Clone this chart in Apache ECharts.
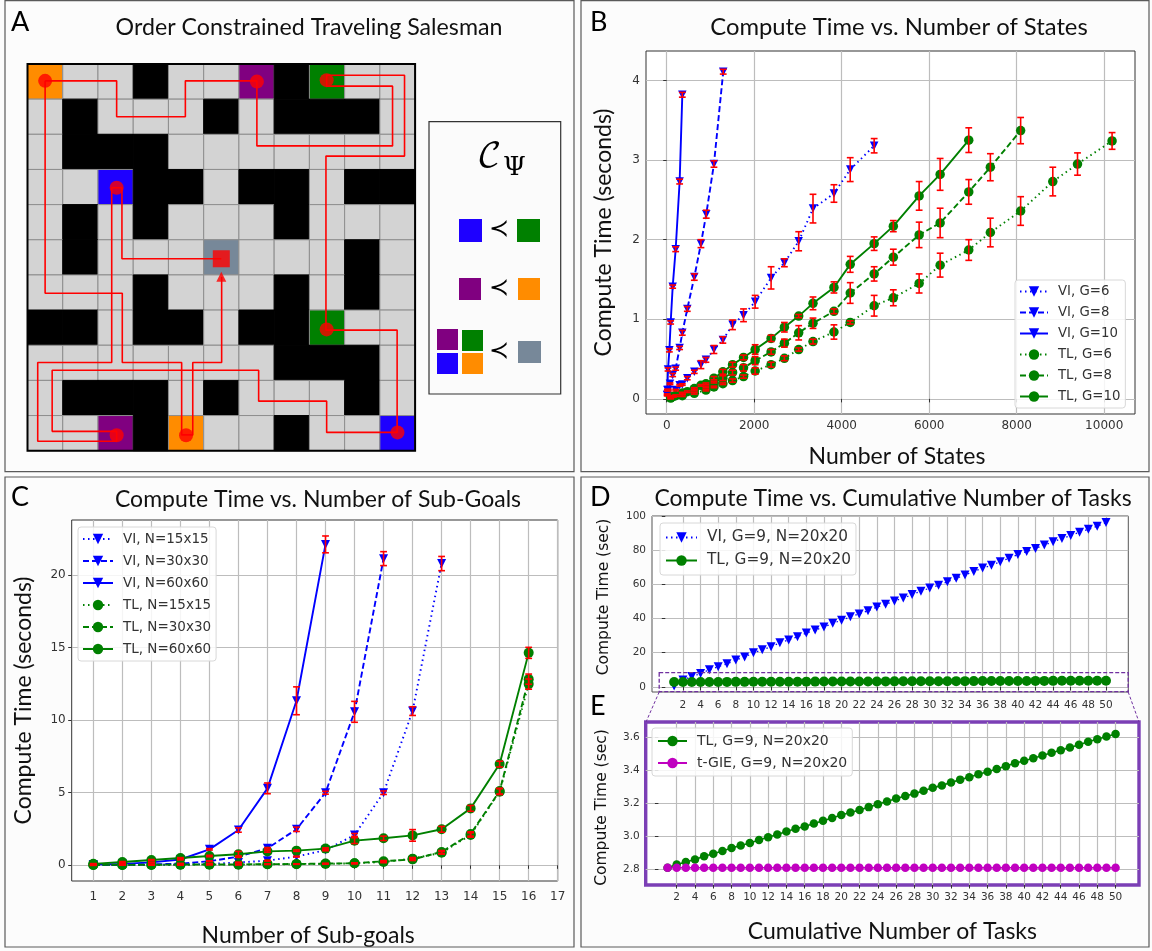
<!DOCTYPE html>
<html><head><meta charset="utf-8">
<style>html,body{margin:0;padding:0;background:#fff}#c{width:1152px;height:951px}</style>
<script src="https://cdn.jsdelivr.net/npm/echarts@6/dist/echarts.min.js"></script>
</head><body><div id="c"></div>
<script>
// ---------- Panel A data ----------
const mazeRows = [
 'OggKggPKGgg','gKgggKgKKKg','gKKKggggggg','ggBKKgKKgKK','gKgKgggKggg',
 'gKgggSgggKg','gggKgggKgKg','KKgKKgKKGgg','gggggggKKKg','gKKKgKgggKg','ggPKOggKggB'];
const pathMainX = [0.5,2.53,2.53,4.48,4.48,6.51,6.51,10.36,10.36,8.49,8.49,8.65,10.70,10.70,8.47,8.47,10.49,10.49,8.49,8.49,6.56,6.56,0.70,0.70,2.53,2.53,0.29,0.29,2.39,2.39,2.68,2.68,5.5];
const pathMainY = [0.48,0.48,1.50,1.50,0.48,0.48,2.33,2.33,0.63,0.63,0.32,0.32,0.32,2.62,2.62,7.57,7.57,10.48,10.48,9.59,9.59,8.71,8.71,10.45,10.45,10.73,10.73,8.49,8.49,3.52,3.52,5.54,5.54];
const pathToGoalX = [0.5,0.5,2.69,2.69,4.375,4.375,4.69,4.69,5.51,5.51];
const pathToGoalY = [0.48,6.52,6.52,8.49,8.49,10.55,10.55,8.49,8.49,6.05];
const stopX = [0.5,6.51,8.49,2.53,8.49,10.5,4.5,2.53];
const stopY = [0.48,0.5,0.46,3.52,7.55,10.48,10.56,10.56];
// ---------- Panel B data ----------
const bTicksX = [0,2000,4000,6000,8000,10000], bTicksY = [0,1,2,3,4];
const xVI10=[8,15,30,61,91,137,205,296,357];
const yVI10=[.05,.11,.37,.61,.96,1.41,1.88,2.73,3.82];
const eVI10=[.01,.01,.02,.02,.02,.02,.03,.03,.03];
const xVI8=[15,38,76,137,205,296,357,471,631,783,904,1080,1292];
const yVI8=[.05,.11,.19,.3,.38,.64,.83,1.13,1.53,1.95,2.32,2.95,4.11];
const eVI8=[.01,.01,.01,.02,.02,.02,.03,.03,.04,.05,.05,.04,.03];
const xVI6=[205,296,357,471,631,783,897,1080,1284,1505,1756,2022,2386,2690,3017,3344,3823,4195,4742];
const yVI6=[.11,.17,.18,.26,.34,.43,.49,.62,.74,.93,1.05,1.22,1.52,1.71,1.98,2.39,2.58,2.88,3.18];
const eVI6=[.01,.01,.01,.02,.02,.05,.03,.05,.04,.06,.08,.08,.14,.05,.12,.18,.11,.15,.09];
const xTL6=[91,357,631,897,1080,1284,1505,1756,2022,2386,2690,3017,3344,3823,4195,4742,5180,5770,6250,6904,7398,8090,8825,9390,10180];
const yTL6=[.01,.04,.07,.11,.15,.19,.23,.28,.35,.43,.51,.62,.72,.84,.96,1.17,1.27,1.45,1.68,1.87,2.09,2.36,2.73,2.95,3.24];
const eTL6=[.01,.01,.01,.01,.01,.01,.02,.02,.04,.03,.03,.02,.03,.09,.02,.13,.1,.12,.15,.13,.18,.18,.18,.14,.105];
const xTL8=[152,357,631,897,1080,1284,1505,1756,2022,2386,2690,3017,3344,3823,4195,4742,5180,5770,6250,6904,7398,8090];
const yTL8=[.03,.07,.11,.15,.21,.26,.33,.39,.48,.59,.70,.83,.95,1.10,1.33,1.57,1.78,2.06,2.21,2.60,2.91,3.37];
const eTL8=[.01,.01,.01,.01,.01,.03,.03,.04,.05,.03,.05,.09,.065,.03,.13,.09,.1,.16,.185,.155,.17,.165];
const xTL10=[91,205,357,471,631,783,897,1080,1284,1505,1756,2022,2386,2690,3017,3344,3823,4195,4742,5180,5770,6250,6904];
const yTL10=[.02,.04,.07,.09,.13,.17,.19,.26,.34,.43,.52,.62,.76,.90,1.04,1.20,1.40,1.69,1.95,2.17,2.55,2.82,3.25];
const eTL10=[.01,.01,.01,.01,.01,.01,.01,.02,.03,.03,.03,.06,.04,.06,.02,.08,.07,.1,.085,.07,.18,.2,.155];
// ---------- Panel C data ----------
const cTicksX=[1,2,3,4,5,6,7,8,9,10,11,12,13,14,15,16,17], cTicksY=[0,5,10,15,20];
const goals9=[1,2,3,4,5,6,7,8,9], goals11=[1,2,3,4,5,6,7,8,9,10,11], goals13=[1,2,3,4,5,6,7,8,9,10,11,12,13], goals16=[1,2,3,4,5,6,7,8,9,10,11,12,13,14,15,16];
const cVI15=[.01,.02,.03,.05,.1,.2,.32,.6,1.05,2.09,5.0,10.62,20.78];
const cVI15e=[.01,.01,.01,.01,.01,.02,.03,.03,.05,.1,.12,.3,.49];
const cVI30=[.01,.03,.06,.12,.28,.6,1.17,2.48,5.0,10.57,21.12];
const cVI30e=[.01,.01,.01,.01,.03,.05,.05,.15,.1,.72,.48];
const cVI60=[.05,.1,.2,.4,1.1,2.43,5.3,11.33,22.1];
const cVI60e=[.01,.01,.02,.03,.05,.15,.37,.96,.58];
const cTL15=[.02,.02,.03,.04,.05,.05,.07,.08,.1,.14,.23,.46,.87,2.09,5.07,12.48];
const cTL15e=[.01,.01,.01,.01,.01,.01,.01,.01,.02,.03,.05,.08,.1,.15,.2,.35];
const cTL30=[.03,.03,.04,.05,.06,.06,.08,.09,.12,.14,.28,.41,.92,2.16,5.11,12.82];
const cTL30e=[.01,.01,.01,.01,.01,.01,.01,.01,.02,.03,.05,.08,.1,.15,.2,.35];
const cTL60=[.1,.23,.37,.5,.64,.76,.96,1.01,1.15,1.7,1.86,2.06,2.48,3.92,6.97,14.63];
const cTL60e=[.02,.03,.03,.03,.05,.2,.06,.05,.05,.2,.15,.4,.2,.2,.2,.38];
// ---------- Panels D / E data ----------
const tasks=[1,2,3,4,5,6,7,8,9,10,11,12,13,14,15,16,17,18,19,20,21,22,23,24,25,26,27,28,29,30,31,32,33,34,35,36,37,38,39,40,41,42,43,44,45,46,47,48,49,50];
const taskTicks=[2,4,6,8,10,12,14,16,18,20,22,24,26,28,30,32,34,36,38,40,42,44,46,48,50];
const dTicksY=[0,20,40,60,80,100], eTicksY=[2.8,3.0,3.2,3.4,3.6];
const dVI=[.5,4,6,7.8,10,11.8,13.5,15.7,17.5,20,21.7,23.5,25.8,27.5,29.3,31.5,33.3,35,37.2,39,41,42.7,44.5,46.7,48.3,50.2,52,54,56,57.8,59.5,61.5,63.5,65.5,67.5,69.5,71.2,73.2,75.3,77.4,79.2,81,83,85,86.8,88.6,90.5,92.2,94,96.2];
const eTL=[2.81,2.83,2.845,2.86,2.88,2.895,2.912,2.93,2.945,2.96,2.978,2.995,3.012,3.03,3.047,3.06,3.078,3.095,3.112,3.13,3.145,3.16,3.178,3.195,3.212,3.23,3.245,3.26,3.278,3.295,3.31,3.327,3.345,3.36,3.378,3.393,3.41,3.427,3.444,3.46,3.475,3.492,3.508,3.523,3.54,3.557,3.575,3.59,3.607,3.622];
const eGIE=[2.81,2.81,2.81,2.81,2.81,2.81,2.81,2.81,2.81,2.81,2.81,2.81,2.81,2.81,2.81,2.81,2.81,2.81,2.81,2.81,2.81,2.81,2.81,2.81,2.81,2.81,2.81,2.81,2.81,2.81,2.81,2.81,2.81,2.81,2.81,2.81,2.81,2.81,2.81,2.81,2.81,2.81,2.81,2.81,2.81,2.81,2.81,2.81,2.81,2.81];
const namesB=['VI, G=6','VI, G=8','VI, G=10','TL, G=6','TL, G=8','TL, G=10'];
const namesC=['VI, N=15x15','VI, N=30x30','VI, N=60x60','TL, N=15x15','TL, N=30x30','TL, N=60x60'];

// ---------- styling & helpers ----------
const COL={O:'#ff8c00',g:'#d3d3d3',K:'#000000',P:'#800080',G:'#008000',B:'#1e00ff',S:'#778899'};
const SANS='"Lato","Noto Sans",sans-serif', MPL='"DejaVu Sans",sans-serif';
const zip=(...a)=>a[0].map((_,i)=>a.map(c=>c[i]));
const DOT=[1.5,3.5], DASH=[6,3];
function curve(name,gi,xs,ys,color,dash,sym,size,lw){
  return {type:'line',name,xAxisIndex:gi,yAxisIndex:gi,data:zip(xs,ys),showAllSymbol:true,z:3,
    symbol:sym==='v'?'triangle':'circle',symbolRotate:sym==='v'?180:0,symbolSize:size,
    itemStyle:{color},lineStyle:{color,width:lw||1.9,type:dash||'solid'}};
}
function errs(gi,xs,ys,es){
  return {type:'custom',xAxisIndex:gi,yAxisIndex:gi,z:5,silent:true,data:zip(xs,ys,es),encode:{x:0,y:1},
    renderItem(p,api){
      const x=api.value(0),y=api.value(1),e=api.value(2);
      const a=api.coord([x,y-e]),b=api.coord([x,y+e]),c=3.4;
      const st={stroke:'#ff0000',lineWidth:1.6,fill:null};
      return {type:'group',children:[
        {type:'line',shape:{x1:a[0],y1:a[1],x2:b[0],y2:b[1]},style:st},
        {type:'line',shape:{x1:a[0]-c,y1:a[1],x2:a[0]+c,y2:a[1]},style:st},
        {type:'line',shape:{x1:b[0]-c,y1:b[1],x2:b[0]+c,y2:b[1]},style:st}]};
    }};
}
function axis(gi,min,max,ticks,name,gap,fs,tfs,o){
  o=o||{};
  return {type:'value',gridIndex:gi,min,max,name,nameLocation:'middle',nameGap:gap,
    nameTextStyle:{fontFamily:o.nameFont||SANS,fontSize:fs,color:'#111',padding:o.namePad||0},
    axisLine:{show:false},
    axisTick:{show:true,customValues:ticks,length:3.5,lineStyle:{color:'#333',width:1}},
    axisLabel:{show:true,customValues:ticks,fontFamily:MPL,fontSize:tfs,color:'#333',margin:o.margin||6,
      hideOverlap:false,showMinLabel:true,showMaxLabel:true,formatter:o.fmt||(v=>String(v))},
    splitLine:{show:true,lineStyle:{color:'#bdbdbd',width:1.2}}};
}
const legendBox=(names,left,top,w,gap,fs,pad)=>({show:true,data:names,orient:'vertical',left,top,itemWidth:w,itemHeight:13,itemGap:gap,
  padding:pad,backgroundColor:'rgba(255,255,255,0.85)',borderColor:'#d8d8d8',borderWidth:1,borderRadius:3,
  textStyle:{fontFamily:MPL,fontSize:fs,color:'#333',padding:[0,0,0,5]},selectedMode:false,z:20});

const series=[
  {type:'custom',xAxisIndex:0,yAxisIndex:0,z:1,silent:true,
   data:mazeRows.flatMap((r,j)=>r.split('').map((c,i)=>[i,j])),
   encode:{x:0,y:1},
   renderItem(p,api){
     const i=api.value(0),j=api.value(1),c=mazeRows[j][i];
     const a=api.coord([i,j]),b=api.coord([i+1,j+1]);
     return {type:'rect',shape:{x:a[0],y:a[1],width:b[0]-a[0],height:b[1]-a[1]},
       style:{fill:COL[c],stroke:c==='K'?'#000':'#8e8e8e',lineWidth:1}};
   }},
  {type:'line',xAxisIndex:0,yAxisIndex:0,data:zip(pathMainX,pathMainY),symbol:'none',z:3,lineStyle:{color:'#ff0000',width:1.6}},
  {type:'line',xAxisIndex:0,yAxisIndex:0,data:zip(pathToGoalX,pathToGoalY),symbol:'none',z:3,lineStyle:{color:'#ff0000',width:1.6}},
  {type:'scatter',xAxisIndex:0,yAxisIndex:0,data:zip(stopX,stopY),symbol:'circle',symbolSize:14,itemStyle:{color:'#ff0000'},z:4},
  {type:'scatter',xAxisIndex:0,yAxisIndex:0,data:[[5.5,5.54]],symbol:'rect',symbolSize:17,itemStyle:{color:'#ff0000'},z:4},
  {type:'scatter',xAxisIndex:0,yAxisIndex:0,data:[[5.5,6.05]],symbol:'triangle',symbolSize:10,itemStyle:{color:'#ff0000'},z:4},

  curve(namesB[0],1,xVI6,yVI6,'#0000ff',DOT,'v',8.5),
  curve(namesB[1],1,xVI8,yVI8,'#0000ff',DASH,'v',8.5),
  curve(namesB[2],1,xVI10,yVI10,'#0000ff','solid','v',8.5),
  curve(namesB[3],1,xTL6,yTL6,'#008000',DOT,'c',9.5),
  curve(namesB[4],1,xTL8,yTL8,'#008000',DASH,'c',9.5),
  curve(namesB[5],1,xTL10,yTL10,'#008000','solid','c',9.5),
  errs(1,xVI6,yVI6,eVI6),errs(1,xVI8,yVI8,eVI8),errs(1,xVI10,yVI10,eVI10),
  errs(1,xTL6,yTL6,eTL6),errs(1,xTL8,yTL8,eTL8),errs(1,xTL10,yTL10,eTL10),

  curve(namesC[0],2,goals13,cVI15,'#0000ff',DOT,'v',9),
  curve(namesC[1],2,goals11,cVI30,'#0000ff',DASH,'v',9),
  curve(namesC[2],2,goals9,cVI60,'#0000ff','solid','v',9),
  curve(namesC[3],2,goals16,cTL15,'#008000',DOT,'c',10),
  curve(namesC[4],2,goals16,cTL30,'#008000',DASH,'c',10),
  curve(namesC[5],2,goals16,cTL60,'#008000','solid','c',10),
  errs(2,goals13,cVI15,cVI15e),errs(2,goals11,cVI30,cVI30e),errs(2,goals9,cVI60,cVI60e),
  errs(2,goals16,cTL15,cTL15e),errs(2,goals16,cTL30,cTL30e),errs(2,goals16,cTL60,cTL60e),

  curve('VI, G=9, N=20x20',3,tasks,dVI,'#0000ff',DOT,'v',9,1.3),
  curve('TL, G=9, N=20x20',3,tasks,eTL,'#008000','solid','c',10,1.4),
  curve('TL, G=9, N=20x20',4,tasks,eTL,'#008000','solid','c',8.5,1.6),
  curve('t-GIE, G=9, N=20x20',4,tasks,eGIE,'#c000c0','solid','c',8.5,1.6)
];

const txt=(x,y,text,size,fam,align)=>({type:'text',x,y,z:30,style:{text,fill:'#000',fontSize:size,fontFamily:fam||SANS,align:align||'left',verticalAlign:'middle'}});
const rect=(x,y,w,h,fill)=>({type:'rect',z:30,shape:{x,y,width:w,height:h},style:{fill}});
const frame=(x,y,w,h)=>({type:'rect',z:1,shape:{x,y,width:w,height:h},style:{fill:null,stroke:'#5a5a5a',lineWidth:1.2}});
const dashLine=(x1,y1,x2,y2)=>({type:'line',z:30,shape:{x1,y1,x2,y2},style:{stroke:'#7030a0',lineWidth:1,lineDash:[3,2]}});
const ttl=(text,left,top,size)=>({text,left,top,textAlign:'center',textStyle:{fontFamily:SANS,fontSize:size,fontWeight:'normal',color:'#111'}});

const option={
  animation:false,backgroundColor:'#fcfcfc',
  title:[
    ttl('Order Constrained Traveling Salesman',304,11,23.2),
    ttl('Compute Time vs. Number of States',894,10,23.8),
    ttl('Compute Time vs. Number of Sub-Goals',313,483,23),
    ttl('Compute Time vs. Cumulative Number of Tasks',888,482,23)
  ],
  grid:[
    {left:27.5,top:64,width:387.6,height:386.7,show:true,borderWidth:0,backgroundColor:'#d3d3d3'},
    {left:646,top:51,width:489,height:363,show:true,borderColor:'#333',borderWidth:1,backgroundColor:'#fff'},
    {left:71.7,top:520,width:486,height:361,show:true,borderColor:'#333',borderWidth:1,backgroundColor:'#fff'},
    {left:652,top:516,width:476.3,height:176,show:true,borderColor:'#555',borderWidth:1,backgroundColor:'#fff'},
    {left:645.7,top:722,width:493.3,height:163,show:true,borderColor:'#7b3fb5',borderWidth:3.4,backgroundColor:'#fff'}
  ],
  xAxis:[
    {type:'value',gridIndex:0,min:0,max:11,show:false},
    axis(1,-473,10704,bTicksX,'Number of States',31,23,12,{namePad:[0,0,0,13]}),
    axis(2,0.255,17,cTicksX,'Number of Sub-goals',43,23,12,{namePad:[0,13,0,0],margin:10}),
    axis(3,-1.51,52.53,taskTicks,'',0,12,10.5,{margin:8}),
    axis(4,-1.39,52.56,taskTicks,'Cumulative Number of Tasks',35,23,10.5,{margin:7})
  ],
  yAxis:[
    {type:'value',gridIndex:0,min:0,max:11,inverse:true,show:false},
    axis(1,-0.19,4.37,bTicksY,'Compute Time (seconds)',31,23,12),
    axis(2,-1.08,23.78,cTicksY,'Compute Time (seconds)',37,23,12),
    axis(3,-3,100,dTicksY,'Compute Time (sec)',40,15.5,10.5,{nameFont:MPL,namePad:[0,0,0,14]}),
    axis(4,2.705,3.695,eTicksY,'Compute Time (sec)',36,15.5,10.5,{nameFont:MPL,namePad:[0,8,0,0],fmt:v=>v.toFixed(1)})
  ],
  legend:[
    legendBox(namesB,1015,280,28,8,13.3,[5,5,5,4]),
    legendBox(namesC,78,527,30,8,13.5,[5,5,5,4]),
    legendBox(['VI, G=9, N=20x20','TL, G=9, N=20x20'],660,523,31,8,15.3,[7,5,7,5]),
    legendBox(['TL, G=9, N=20x20','t-GIE, G=9, N=20x20'],652,728,29,8,14,[6,5,6,5])
  ],
  series,
  graphic:{elements:[
    frame(5,0.6,569,471),frame(581,0.6,568,471),frame(5,477,569,470),frame(581,477,568,470),
    txt(11,22,'A',27),txt(590,22,'B',27),txt(11,497,'C',27),txt(590,497,'D',27),txt(590,706,'E',27),
    {type:'rect',z:30,shape:{x:27.5,y:64,width:387.6,height:386.7},style:{fill:null,stroke:'#000',lineWidth:2}},
    {type:'rect',z:10,shape:{x:429,y:121.7,width:131.7,height:272.3},style:{fill:'#fbfbfb',stroke:'#333',lineWidth:1.2}},
    {type:'text',x:477,y:157,z:30,style:{text:'𝒞',fill:'#000',fontSize:34,fontFamily:'"DejaVu Math TeX Gyre","DejaVu Serif",serif',align:'left',verticalAlign:'middle'}},
    {type:'text',x:503,y:168,z:30,style:{text:'Ψ',fill:'#000',fontSize:26,fontFamily:'"DejaVu Serif",serif',align:'left',verticalAlign:'middle'}},
    rect(459,219,23,23,COL.B),rect(517,219,23,23,COL.G),
    rect(459,278,22,22,COL.P),rect(518,278,22,22,COL.O),
    rect(437,329,21,21,COL.P),rect(462,330,21,21,COL.G),rect(437,353,21,21,COL.B),rect(462,353,21,21,COL.O),rect(518,341,23,22,COL.S),
    txt(499,230,'≺',24,MPL,'center'),txt(499,289,'≺',24,MPL,'center'),txt(499,352,'≺',24,MPL,'center'),
    {type:'rect',z:30,shape:{x:659.2,y:672.7,width:469,height:19},style:{fill:null,stroke:'#7030a0',lineWidth:1.3,lineDash:[4,2]}},
    dashLine(659.2,692,646,722),dashLine(1128.2,692,1139,722)
  ]}
};
echarts.init(document.getElementById('c'),null,{width:1152,height:951}).setOption(option);
</script></body></html>
